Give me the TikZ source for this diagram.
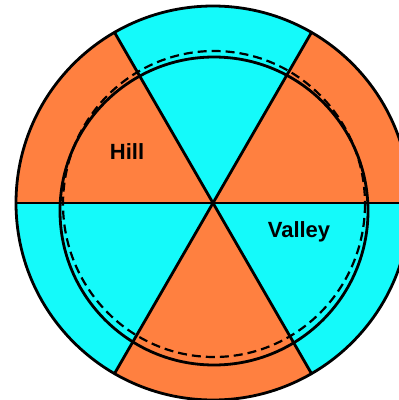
\documentclass[tikz,border=0pt]{standalone}
\usepackage{fontspec}
\setmainfont{Liberation Sans}
\begin{document}
\begin{tikzpicture}[x=1pt,y=-1pt,line width=2.8pt,
  lbl/.style={font=\bfseries\fontsize{22}{22}\selectfont, text=black, inner sep=0pt}]
\definecolor{hillc}{RGB}{255,128,64}
\definecolor{valc}{RGB}{20,250,250}
\useasboundingbox (0,0) rectangle (399,400);
\fill[white] (0,0) rectangle (399,400);
\coordinate (c) at (213,203);
\def\R{197}
% sectors
\foreach \a/\col in {0/hillc,-60/valc,-120/hillc,-180/valc,-240/hillc,-300/valc}{
  \fill[\col] (c) -- ++(\a:\R) arc[start angle=\a, end angle=\a-60, radius=\R] -- cycle;
}
% dividing lines
\path (c) ++(180:\R) coordinate (l) (c) ++(0:\R) coordinate (r);
\draw (l) -- (r);
\path (c) ++(-60:\R) coordinate (a1) (c) ++(120:\R) coordinate (a2);
\draw (a1) -- (a2);
\path (c) ++(-120:\R) coordinate (b1) (c) ++(60:\R) coordinate (b2);
\draw (b1) -- (b2);
% inner rings
\draw[line width=2.2pt, dash pattern=on 9pt off 5pt] (214,204) ellipse[x radius=151, y radius=153];
\draw (214,211) circle[radius=154];
% outer circle
\draw (c) circle[radius=\R];
% labels
\node[lbl] (hill) at (127,152) {Hill};
\node[lbl] (valley) at (299,232) {Valley};
\end{tikzpicture}
\end{document}
